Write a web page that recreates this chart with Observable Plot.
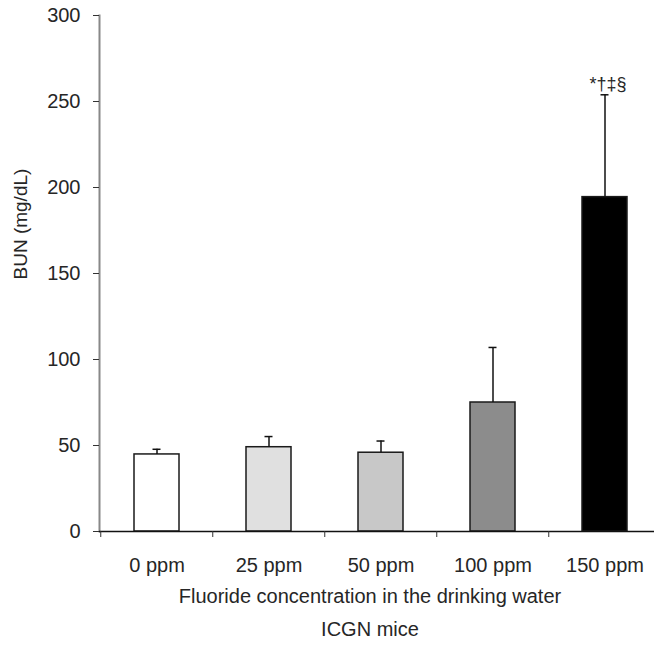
<!DOCTYPE html>
<html><head><meta charset="utf-8">
<script src="https://cdn.jsdelivr.net/npm/d3@7"></script>
<script src="https://cdn.jsdelivr.net/npm/@observablehq/plot@0.6"></script>
<style>body{margin:0;background:#fff}</style>
</head><body><div id="chart"></div>
<script>
const categories = ["0 ppm", "25 ppm", "50 ppm", "100 ppm", "150 ppm"];
const means = [44.8, 49.0, 45.8, 75.0, 194.4];
const sds = [3.0, 6.2, 6.8, 32.0, 59.5];
const fills = ["#ffffff", "#e0e0e0", "#c8c8c8", "#8c8c8c", "#000000"];
const annotations = ["", "", "", "", "*†‡§"];
const yTicks = [0, 50, 100, 150, 200, 250, 300];
const yLabel = "BUN (mg/dL)";
const xLabel = "Fluoride concentration in the drinking water";
const caption = "ICGN mice";

const data = categories.map((c, i) => ({cat: c, mean: means[i], upper: means[i] + sds[i], fill: fills[i], note: annotations[i]}));

const W = 654, H = 649;
const xRange = [99, 661.5];
const paddingInner = 0.6, paddingOuter = 0.3;
const step = (xRange[1] - xRange[0]) / (categories.length - paddingInner + 2 * paddingOuter);
const barW = step * (1 - paddingInner);
const capHalf = 4;
const ink = "#262626";

const chart = Plot.plot({
  width: W, height: H,
  marginLeft: 99, marginRight: 0, marginTop: 15, marginBottom: 118,
  style: {fontFamily: "'Liberation Sans', Arial, sans-serif", fontSize: "20px", color: ink, background: "#fff"},
  x: {domain: categories, range: xRange, paddingInner, paddingOuter, align: 0.5, label: null},
  y: {domain: [0, 300], label: null},
  color: {type: "identity"},
  marks: [
    Plot.barY(data, {x: "cat", y: "mean", fill: "fill", stroke: "#1a1a1a", strokeWidth: 1.5}),
    Plot.ruleX(data, {x: "cat", y1: "mean", y2: "upper", stroke: "#111", strokeWidth: 1.5}),
    Plot.tickY(data, {x: "cat", y: "upper", stroke: "#111", strokeWidth: 1.5, insetLeft: barW / 2 - capHalf, insetRight: barW / 2 - capHalf}),
    Plot.text(data, {x: "cat", y: "upper", text: "note", dy: -11, dx: 3, fontSize: 18, fill: ink}),
    Plot.frame({anchor: "left", stroke: "#888", strokeWidth: 2}),
    Plot.axisY({ticks: yTicks, tickSize: 6, tickPadding: 13, label: null, stroke: "#333", fill: ink}),
    Plot.ruleY([0], {stroke: "#111", strokeWidth: 1.5}),
    Plot.axisX({tickSize: 6, tickFormat: () => "", dx: -step / 2, label: null, stroke: "#333"}),
    Plot.axisX({tickSize: 0, tickPadding: 26, label: null, fill: ink}),
    Plot.text([yLabel], {frameAnchor: "left", rotate: -90, dx: -79, dy: 6, fill: ink, fontSize: 19}),
    Plot.text([xLabel], {frameAnchor: "bottom", dy: 71, dx: -7, fill: ink}),
    Plot.text([caption], {frameAnchor: "bottom", dy: 104, dx: -7, fill: ink})
  ]
});
document.getElementById("chart").appendChild(chart);
</script>
</body></html>
